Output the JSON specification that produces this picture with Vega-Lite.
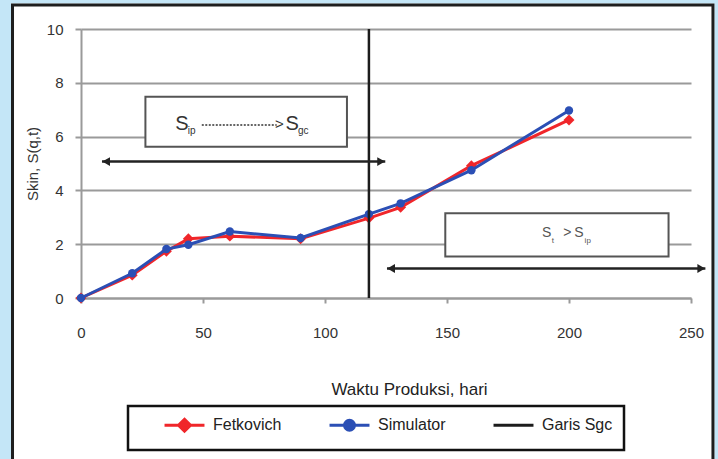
{
  "$schema": "https://vega.github.io/schema/vega-lite/v6.json",
  "width": 610,
  "height": 269,
  "autosize": {"type": "none"},
  "padding": {"left": 81, "top": 29, "right": 27, "bottom": 161},
  "background": "white",
  "config": {"font": "Liberation Sans", "view": {"stroke": null}},
  "datasets": {
    "frameBlue": [{"x": -33.61, "x2": 264.55, "y": 11.394, "y2": -8.25}],
    "frameBorder": [{"x": -28.07, "x2": 259.0, "y": 10.892, "y2": -6.77}],
    "fet": [
      {"x": 0, "y": 0}, {"x": 21, "y": 0.85}, {"x": 35, "y": 1.74}, {"x": 44, "y": 2.2},
      {"x": 61, "y": 2.3}, {"x": 90, "y": 2.2}, {"x": 118, "y": 2.97}, {"x": 131, "y": 3.37},
      {"x": 160, "y": 4.92}, {"x": 200, "y": 6.62}
    ],
    "sim": [
      {"x": 0, "y": 0}, {"x": 21, "y": 0.92}, {"x": 35, "y": 1.82}, {"x": 44, "y": 1.98},
      {"x": 61, "y": 2.47}, {"x": 90, "y": 2.23}, {"x": 118, "y": 3.12}, {"x": 131, "y": 3.52},
      {"x": 160, "y": 4.75}, {"x": 200, "y": 6.97}
    ],
    "sgc": [{"x": 118, "y": 0, "y2": 10}],
    "boxes": [
      {"x": 26.4, "x2": 109.0, "y": 7.48, "y2": 5.62},
      {"x": 149.3, "x2": 240.8, "y": 3.15, "y2": 1.54}
    ],
    "arrows": [
      {"x": 8.6, "x2": 124.7, "y": 5.07},
      {"x": 125.4, "x2": 255.9, "y": 1.1}
    ],
    "heads": [
      {"x": 10.3, "y": 5.07, "dir": "left"},
      {"x": 123.0, "y": 5.07, "dir": "right"},
      {"x": 127.1, "y": 1.1, "dir": "left"},
      {"x": 254.2, "y": 1.1, "dir": "right"}
    ],
    "bigS": [{"x": 41.4, "y": 6.45, "t": "S"}, {"x": 86.5, "y": 6.45, "t": "S"}],
    "bigSub": [{"x": 43.8, "y": 6.2, "t": "ip"}, {"x": 88.9, "y": 6.2, "t": "gc"}],
    "dots": [{"x": 49.5, "x2": 80.2, "y": 6.43}],
    "gt": [{"x": 81.3, "y": 6.45, "t": ">"}],
    "smallS": [{"x": 190.8, "y": 2.41, "t": "S"}, {"x": 199.3, "y": 2.43, "t": ">"}, {"x": 204.1, "y": 2.41, "t": "S"}],
    "smallSub": [{"x": 192.9, "y": 2.12, "t": "t"}, {"x": 206.4, "y": 2.12, "t": "ip"}]
  },
  "encoding": {
    "x": {
      "field": "x",
      "type": "quantitative",
      "scale": {"domain": [0, 250], "nice": false, "zero": false},
      "axis": {
        "title": "Waktu Produksi, hari",
        "values": [0, 50, 100, 150, 200, 250],
        "grid": false,
        "domainColor": "#9a9a9a",
        "domainWidth": 2,
        "tickColor": "#9a9a9a",
        "tickWidth": 2,
        "tickSize": 5,
        "labelPadding": 22,
        "labelFontSize": 15,
        "labelColor": "#333333",
        "labelFlush": false,
        "labelOverlap": false,
        "titleFontSize": 17,
        "titleFontWeight": "normal",
        "titleColor": "#222222",
        "titleX": 328,
        "titleY": 83,
        "titleBaseline": "top",
        "titleAlign": "center"
      }
    },
    "y": {
      "field": "y",
      "type": "quantitative",
      "scale": {"domain": [0, 10], "nice": false, "zero": false},
      "axis": {
        "title": "Skin, S(q,t)",
        "values": [0, 2, 4, 6, 8, 10],
        "grid": true,
        "gridColor": "#9a9a9a",
        "gridWidth": 2,
        "domainColor": "#9a9a9a",
        "domainWidth": 2,
        "tickColor": "#9a9a9a",
        "tickWidth": 2,
        "tickSize": 6,
        "labelPadding": 12,
        "labelFontSize": 15,
        "labelColor": "#333333",
        "titleFontSize": 15,
        "titleFontWeight": "normal",
        "titleColor": "#333333",
        "titlePadding": 6
      }
    }
  },
  "layer": [
    {
      "data": {"name": "frameBlue"},
      "mark": {"type": "rect", "filled": false, "stroke": "#c4e6f7", "strokeWidth": 24},
      "encoding": {"x2": {"field": "x2"}, "y2": {"field": "y2"}}
    },
    {
      "data": {"name": "frameBorder"},
      "mark": {"type": "rect", "filled": false, "stroke": "#1e1e1e", "strokeWidth": 3},
      "encoding": {"x2": {"field": "x2"}, "y2": {"field": "y2"}}
    },
    {
      "data": {"name": "boxes"},
      "mark": {"type": "rect", "fill": "white", "stroke": "#555555", "strokeWidth": 2},
      "encoding": {"x2": {"field": "x2"}, "y2": {"field": "y2"}}
    },
    {
      "data": {"name": "fet"},
      "mark": {"type": "line", "strokeWidth": 3},
      "encoding": {
        "color": {
          "datum": "Fetkovich",
          "type": "nominal",
          "scale": {"domain": ["Fetkovich", "Simulator", "Garis Sgc"], "range": ["#f0262a", "#2b4fb5", "#1c1c1c"]},
          "legend": {
            "title": null,
            "orient": "none",
            "legendX": 47,
            "legendY": 377,
            "direction": "horizontal",
            "strokeColor": "#111111",
            "padding": 11,
            "columnPadding": 22,
            "gridAlign": "each",
            "labelFontSize": 16,
            "labelColor": "#222222",
            "labelOffset": 58,
            "labelExpr": "datum.label === 'Simulator' ? datum.label + '\u00a0\u00a0' : datum.label === 'Garis Sgc' ? datum.label + '\u00a0\u00a0\u00a0\u00a0\u00a0\u00a0\u00a0\u00a0' : datum.label",
            "symbolSize": 144,
            "symbolStrokeWidth": 3,
            "encode": {
              "symbols": {
                "update": {
                  "shape": {"signal": "datum.value === 'Fetkovich' ? 'M6.25,-1.25ZM6.25,1.25ZM2.92,0H9.58M6.25,-1L7.25,0L6.25,1L5.25,0Z' : datum.value === 'Simulator' ? 'M6.25,-1.25ZM6.25,1.25ZM2.92,0H9.58M7.08,0A0.83,0.83,0,1,1,5.42,0A0.83,0.83,0,1,1,7.08,0Z' : 'M6.25,-1.25ZM6.25,1.25ZM2.92,0H9.58'"},
                  "fill": {"signal": "scale('color', datum.value)"},
                  "stroke": {"signal": "scale('color', datum.value)"},
                  "strokeWidth": {"value": 3},
                  "opacity": {"value": 1}
                }
              },
              "legend": {"update": {"strokeWidth": {"value": 2.5}}}
            }
          }
        }
      }
    },
    {
      "data": {"name": "fet"},
      "mark": {"type": "point", "shape": "diamond", "filled": true, "size": 120, "color": "#f0262a", "opacity": 1}
    },
    {
      "data": {"name": "sim"},
      "mark": {"type": "line", "strokeWidth": 3},
      "encoding": {"color": {"datum": "Simulator", "type": "nominal"}}
    },
    {
      "data": {"name": "sim"},
      "mark": {"type": "point", "shape": "circle", "filled": true, "size": 70, "color": "#2b4fb5", "opacity": 1}
    },
    {
      "data": {"name": "sgc"},
      "mark": {"type": "rule", "strokeWidth": 2.5},
      "encoding": {"y2": {"field": "y2"}, "color": {"datum": "Garis Sgc", "type": "nominal"}}
    },
    {
      "data": {"name": "arrows"},
      "mark": {"type": "rule", "strokeWidth": 2.5, "color": "#222222"},
      "encoding": {"x2": {"field": "x2"}}
    },
    {
      "data": {"name": "heads"},
      "mark": {"type": "point", "filled": true, "size": 80, "color": "#222222", "opacity": 1},
      "encoding": {
        "shape": {"field": "dir", "type": "nominal", "scale": {"domain": ["left", "right"], "range": ["triangle-left", "triangle-right"]}, "legend": null}
      }
    },
    {
      "data": {"name": "dots"},
      "mark": {"type": "rule", "strokeWidth": 1.4, "strokeDash": [2, 1.5], "color": "#333333"},
      "encoding": {"x2": {"field": "x2"}}
    },
    {
      "data": {"name": "bigS"},
      "mark": {"type": "text", "fontSize": 20, "color": "#333333", "baseline": "middle", "align": "center"},
      "encoding": {"text": {"field": "t"}}
    },
    {
      "data": {"name": "bigSub"},
      "mark": {"type": "text", "fontSize": 10, "color": "#333333", "baseline": "middle", "align": "left"},
      "encoding": {"text": {"field": "t"}}
    },
    {
      "data": {"name": "gt"},
      "mark": {"type": "text", "fontSize": 15, "color": "#333333", "baseline": "middle", "align": "center"},
      "encoding": {"text": {"field": "t"}}
    },
    {
      "data": {"name": "smallS"},
      "mark": {"type": "text", "fontSize": 14, "color": "#555555", "baseline": "middle", "align": "center"},
      "encoding": {"text": {"field": "t"}}
    },
    {
      "data": {"name": "smallSub"},
      "mark": {"type": "text", "fontSize": 8, "color": "#555555", "baseline": "middle", "align": "left"},
      "encoding": {"text": {"field": "t"}}
    }
  ]
}
